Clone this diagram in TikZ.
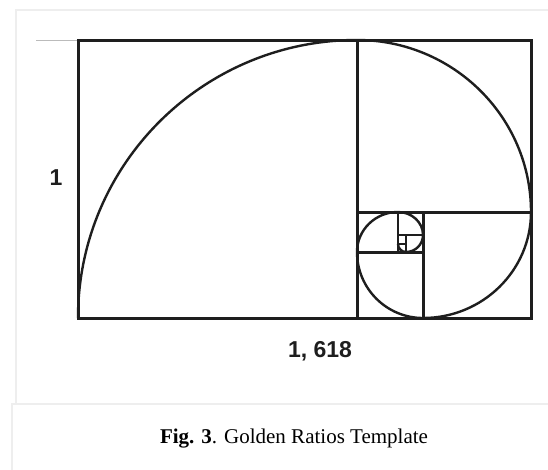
\documentclass[tikz,border=0pt]{standalone}
\usepackage{fontspec}
\setmainfont{Liberation Serif}
\newfontfamily\labelfont{Liberation Sans}
\usetikzlibrary{positioning}
\definecolor{frameline}{HTML}{EEEEEE}
\definecolor{guide}{HTML}{BBBBBB}
\definecolor{ink}{HTML}{1E1E1E}
\tikzset{
  panel/.style={draw=frameline, line width=1.6pt},
  sqline/.style={draw=ink, line width=3pt},
  thinsq/.style={draw=ink, line width=2pt},
  spiral/.style={draw=ink, line width=2.4pt},
  sidelabel/.style={font=\labelfont\bfseries\fontsize{23}{27}\selectfont,
    text=ink, inner sep=0pt, anchor=base},
  captext/.style={font=\fontsize{21}{25}\selectfont, inner sep=0pt, anchor=base}
}

\begin{document}
\begin{tikzpicture}[x=1pt, y=-1pt]
    \useasboundingbox (0,0) rectangle (548,469);
    % panel frames
    \draw[panel] (16,404) -- (16,10) -- (560,10);
    \draw[panel] (12,480) -- (12,404) -- (560,404);
    \draw[guide, line width=1pt] (36,40) -- (78,40);
    % golden rectangle and its squares
    \coordinate (nw) at (78,40);
    \coordinate (se) at (531,318);
    \draw[sqline] (nw) rectangle (se);
    \draw[sqline] (357,40) -- (357,318);
    \draw[sqline] (357,212) -- (531,212);
    \draw[sqline] (423,212) -- (423,318);
    \draw[sqline] (357,252) -- (423,252);
    \draw[thinsq] (398,212) -- (398,252);
    \draw[thinsq] (398,235) -- (423,235);
    \draw[thinsq] (406,235) -- (406,252);
    \draw[thinsq] (398,244) -- (406,244);
    % spiral
    \draw[spiral] (78,318)
      arc[start angle=180, end angle=90, x radius=279pt, y radius=278pt]
      arc[start angle=90, end angle=0, x radius=174pt, y radius=172pt]
      arc[start angle=0, end angle=-90, x radius=108pt, y radius=106pt]
      arc[start angle=-90, end angle=-180, radius=66pt]
      arc[start angle=180, end angle=90, x radius=41pt, y radius=40pt]
      arc[start angle=90, end angle=0, x radius=25pt, y radius=23pt]
      arc[start angle=0, end angle=-90, radius=17pt]
      arc[start angle=-90, end angle=-180, radius=8pt];
    % labels
    \node[sidelabel] (height) at (56,185) {1};
    \node[sidelabel] (width) at (320,357) {1, 618};
    \node[captext] (caption) at (294,443) {\textbf{Fig. 3}. Golden Ratios Template};
  \end{tikzpicture}
\end{document}
